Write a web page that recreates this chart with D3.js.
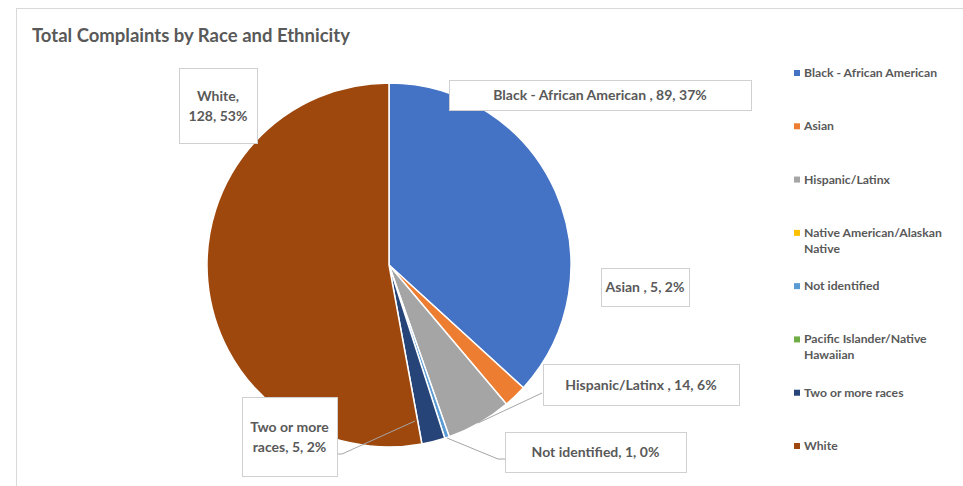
<!DOCTYPE html>
<html><head><meta charset="utf-8">
<script src="https://cdn.jsdelivr.net/npm/d3@7"></script>
<style>body{margin:0;background:#fff}svg{display:block}text{font-family:Lato,"Open Sans",sans-serif}</style>
</head><body><svg id="c" width="963" height="486"></svg>
<script>
const categories = ["Black - African American","Asian","Hispanic/Latinx","Native American/Alaskan Native","Not identified","Pacific Islander/Native Hawaiian","Two or more races","White"];
const values = [89,5,14,0,1,0,5,128];
const colors = ["#4472C4","#ED7D31","#A5A5A5","#FFC000","#5B9BD5","#70AD47","#264478","#9E480E"];
const legendLines = [["Black - African American"],["Asian"],["Hispanic/Latinx"],["Native American/Alaskan","Native"],["Not identified"],["Pacific Islander/Native","Hawaiian"],["Two or more races"],["White"]];
const labelLines = [["Black - African American , 89, 37%"],["Asian , 5, 2%"],["Hispanic/Latinx , 14, 6%"],null,["Not identified, 1, 0%"],null,["Two or more","races, 5, 2%"],["White,","128, 53%"]];

// layout (box rectangles for labels: x, y, w, h) and leader lines
const boxes = {0:[449,80,302,30],1:[601,268,88,38],2:[543,364,196,41],4:[505,432,181,40],6:[242,397,95,79],7:[179,68,78,75]};
const leaders = {2:[[542,393],[478,423]],4:[[447,438],[498,459],[505,459]],6:[[415,421],[342,454],[337,454]]};

const svg = d3.select("#c");
svg.append("rect").attr("x",16.5).attr("y",8.5).attr("width",960).attr("height",490).attr("fill","#fff").attr("stroke","#d9d9d9");
svg.append("text").attr("x",32).attr("y",42).attr("font-size",18.5).attr("font-weight","bold").attr("fill","#595959").text("Total Complaints by Race and Ethnicity");

const cx=389, cy=265, r=182;
const pie = d3.pie().sort(null).value(d=>d.v);
const data = categories.map((c,i)=>({c,v:values[i],i}));
const arcs = pie(data);
const arc = d3.arc().innerRadius(0).outerRadius(r);
const g = svg.append("g").attr("transform",`translate(${cx},${cy})`);
g.selectAll("path").data(arcs.filter(a=>a.data.v>0)).join("path")
  .attr("d",arc).attr("fill",d=>colors[d.data.i]).attr("stroke","#fff").attr("stroke-width",1.5);

Object.entries(leaders).forEach(([k,pts])=>{
  svg.append("path").attr("d",d3.line()(pts)).attr("fill","none").attr("stroke","#a6a6a6").attr("stroke-width",1);
});
Object.entries(boxes).forEach(([k,b])=>{
  const i=+k, lines=labelLines[i];
  svg.append("rect").attr("x",b[0]+0.5).attr("y",b[1]+0.5).attr("width",b[2]).attr("height",b[3]).attr("fill","#fff").attr("stroke","#d0d0d0");
  const lh=20, y0=b[1]+b[3]/2-(lines.length-1)*lh/2+5;
  lines.forEach((t,j)=>svg.append("text").attr("x",b[0]+b[2]/2).attr("y",y0+j*lh).attr("text-anchor","middle")
    .attr("font-size",14).attr("font-weight","bold").attr("fill","#595959").text(t));
});

const ly = d3.scaleLinear().domain([0,7]).range([73,446]);
categories.forEach((c,i)=>{
  const y=ly(i);
  svg.append("rect").attr("x",794).attr("y",y-3).attr("width",6).attr("height",6).attr("fill",colors[i]);
  legendLines[i].forEach((t,j)=>svg.append("text").attr("x",804).attr("y",y+4+j*16).attr("font-size",12.2).attr("font-weight","bold").attr("fill","#595959").text(t));
});
</script></body></html>
